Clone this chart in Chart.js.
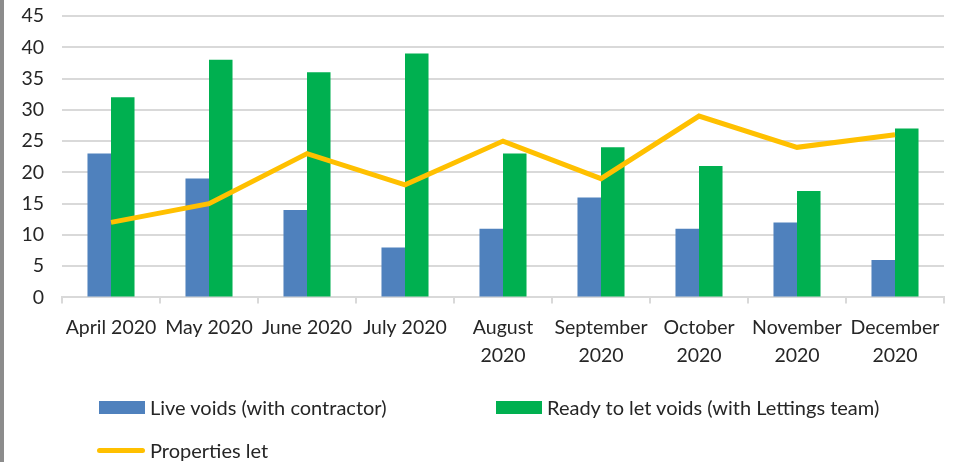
<!DOCTYPE html>
<html><head><meta charset="utf-8">
<script src="https://cdn.jsdelivr.net/npm/chart.js@4/dist/chart.umd.min.js"></script>
<style>
html,body{margin:0;padding:0;background:#fff;}
#wrap{position:relative;width:960px;height:462px;overflow:hidden;}
#edge{position:absolute;left:0;top:0;width:4px;height:462px;background:#8c8c8c;}
canvas{position:absolute;left:0;top:0;}
.leg{position:absolute;font-family:Lato,"Liberation Sans",sans-serif;font-size:20px;color:#262626;display:flex;align-items:center;white-space:nowrap;}
.sw{display:inline-block;width:46px;height:13px;margin-right:5px;}
.ln{display:inline-block;width:48px;height:5px;border-radius:3px;margin-right:5px;}
</style></head>
<body><div id="wrap"><canvas id="c" width="960" height="462"></canvas><div id="edge"></div><div id="legend"></div></div>
<script>
const categories = [["April 2020"],["May 2020"],["June 2020"],["July 2020"],["August","2020"],["September","2020"],["October","2020"],["November","2020"],["December","2020"]];
const liveVoids = [23,19,14,8,11,16,11,12,6];
const readyVoids = [32,38,36,39,23,24,21,17,27];
const propertiesLet = [12,15,23,18,25,19,29,24,26];
const seriesNames = ["Live voids (with contractor)","Ready to let voids (with Lettings team)","Properties let"];
const colors = ["#4F81BD","#00B050","#FFC000"];
const FONT = "Lato";

const chart = new Chart(document.getElementById('c'), {
  data: {
    labels: categories,
    datasets: [
      {type:'line', label: seriesNames[2], data: propertiesLet, borderColor: colors[2], backgroundColor: colors[2], borderWidth: 5, pointRadius: 0, tension: 0, order: 0},
      {type:'bar', label: seriesNames[0], data: liveVoids, backgroundColor: colors[0], barPercentage: 1, categoryPercentage: 0.48, order: 1},
      {type:'bar', label: seriesNames[1], data: readyVoids, backgroundColor: colors[1], barPercentage: 1, categoryPercentage: 0.48, order: 1}
    ]
  },
  options: {
    responsive: false, animation: false,
    layout: {padding: {left: 0, right: 16, top: 16, bottom: 82}},
    plugins: {legend: {display: false}, tooltip: {enabled: false}},
    scales: {
      x: {
        offset: true,
        grid: {offset: true, drawOnChartArea: false, drawTicks: true, tickLength: 6, color: '#d9d9d9', lineWidth: 2},
        border: {display: true, color: '#d9d9d9', width: 2},
        ticks: {font: {family: FONT, size: 19.5, lineHeight: 1.45}, color: '#262626', maxRotation: 0, autoSkip: false, padding: 10}
      },
      y: {
        min: 0, max: 45,
        ticks: {stepSize: 5, font: {family: FONT, size: 19.5}, color: '#262626', padding: 18},
        grid: {color: '#d9d9d9', lineWidth: 2, drawTicks: false},
        border: {display: false},
        afterFit: s => { s.width = 62; s.paddingTop = 0; s.paddingBottom = 0; }
      }
    }
  }
});

const leg = document.getElementById('legend');
const items = [
  {i:0, x:99, y:407, kind:'sw'},
  {i:1, x:496, y:407, kind:'sw'},
  {i:2, x:97, y:450, kind:'ln'}
];
items.forEach(it => {
  const d = document.createElement('div');
  d.className = 'leg';
  d.style.left = it.x + 'px';
  d.style.top = (it.y - 12) + 'px';
  d.style.height = '24px';
  const s = document.createElement('span');
  s.className = it.kind;
  s.style.background = colors[it.i];
  d.appendChild(s);
  d.appendChild(document.createTextNode(seriesNames[it.i]));
  leg.appendChild(d);
});
</script></body></html>
